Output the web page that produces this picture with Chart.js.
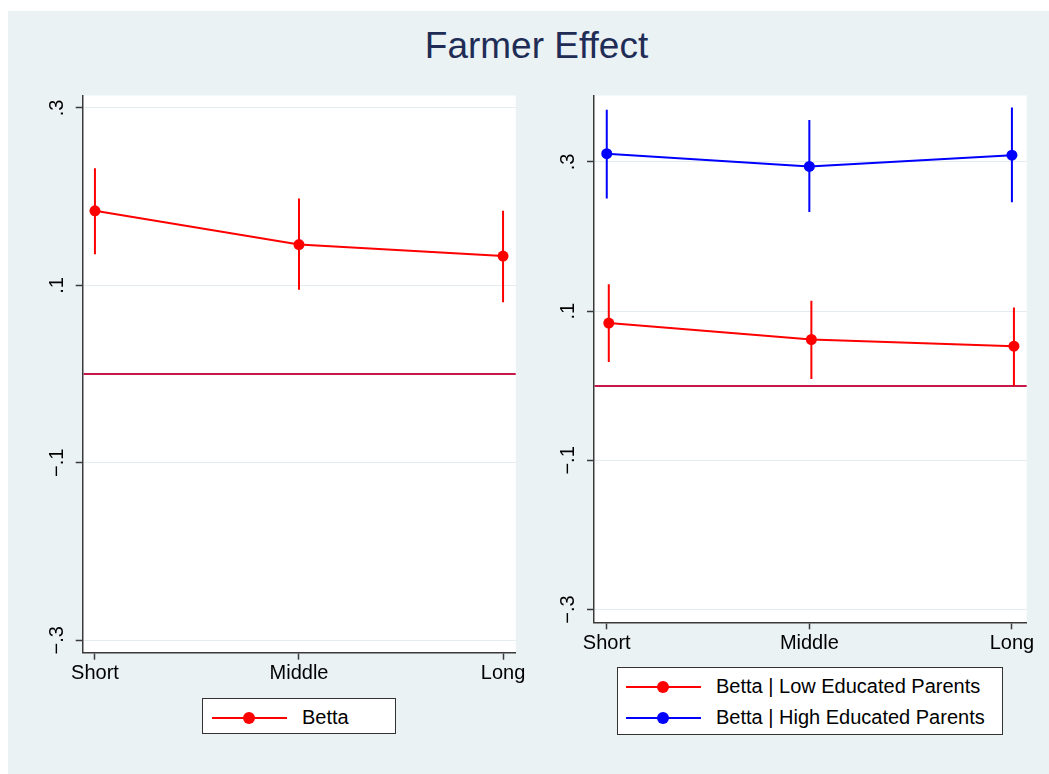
<!DOCTYPE html>
<html>
<head>
<meta charset="utf-8">
<script src="https://cdn.jsdelivr.net/npm/chart.js@4.4.0/dist/chart.umd.min.js"></script>
<style>
  body { margin:0; background:#ffffff; width:1049px; height:774px; overflow:hidden; position:relative;
         font-family:"Liberation Sans", Arial, Helvetica, sans-serif; }
  #bg { position:absolute; left:8px; top:11px; width:1041px; height:763px; background:#eaf2f3; }
  #title { position:absolute; left:0; width:1073px; top:27px; text-align:center; font-size:37px; line-height:37px; color:#1f2d56; }
  canvas { position:absolute; }
  .legend { position:absolute; background:#ffffff; border:1px solid #333333; box-sizing:border-box; }
  .sym { position:absolute; width:75px; height:2px; }
  .dot { position:absolute; width:12px; height:12px; border-radius:50%; left:31px; top:-5px; }
  .lbl { position:absolute; font-size:20px; line-height:20px; color:#000000; white-space:nowrap; }
</style>
</head>
<body>
<div id="bg"></div>
<div id="title">Farmer Effect</div>
<canvas id="c1" width="510" height="610" style="left:20px;top:90px;"></canvas>
<canvas id="c2" width="500" height="580" style="left:540px;top:90px;"></canvas>

<div class="legend" style="left:202px;top:698px;width:194px;height:36px;">
  <div class="sym" style="left:9px;top:18px;background:#ff0000;"><div class="dot" style="background:#ff0000;"></div></div>
  <div class="lbl" style="left:99px;top:8px;">Betta</div>
</div>
<div class="legend" style="left:617px;top:667px;width:386px;height:68px;">
  <div class="sym" style="left:8px;top:18px;background:#ff0000;"><div class="dot" style="background:#ff0000;"></div></div>
  <div class="lbl" style="left:98px;top:8px;">Betta | Low Educated Parents</div>
  <div class="sym" style="left:8px;top:49px;background:#0000ff;"><div class="dot" style="background:#0000ff;"></div></div>
  <div class="lbl" style="left:98px;top:39px;">Betta | High Educated Parents</div>
</div>

<script>
// ---- data ----
const categories = ['Short', 'Middle', 'Long'];
const yTickValues = [-0.3, -0.1, 0.1, 0.3];
const yTickLabels = ['\u2212.3', '\u2212.1', '.1', '.3'];

// left panel: Betta (all)
const bettaAll     = [0.184, 0.146, 0.133];
const bettaAllLow  = [0.135, 0.095, 0.081];
const bettaAllHigh = [0.232, 0.198, 0.184];

// right panel: Low educated parents
const bettaLowEd     = [0.084, 0.062, 0.053];
const bettaLowEdLow  = [0.032, 0.009, 0.000];
const bettaLowEdHigh = [0.136, 0.114, 0.105];

// right panel: High educated parents
const bettaHighEd     = [0.311, 0.294, 0.309];
const bettaHighEdLow  = [0.251, 0.233, 0.246];
const bettaHighEdHigh = [0.370, 0.356, 0.373];

const lowEdDodge = 0.01;

// ---- styling ----
const FONT = "'Liberation Sans', Arial, Helvetica, sans-serif";
const RED = '#ff0000', BLUE = '#0000ff', ZERO = '#c8184a', GRID = '#e3ecee', AXIS = '#3a3a3a';

function seriesSets(vals, lo, hi, color, dx) {
  const line = [{
    data: vals.map((v, i) => ({ x: i + dx, y: v })),
    showLine: true, borderColor: color, borderWidth: 2,
    pointRadius: 5.5, pointBackgroundColor: color, pointBorderWidth: 0, pointHoverRadius: 5.5
  }];
  const bars = vals.map((v, i) => ({
    data: [{ x: i + dx, y: lo[i] }, { x: i + dx, y: hi[i] }],
    showLine: true, borderColor: color, borderWidth: 2, pointRadius: 0
  }));
  return { line: line, bars: bars };
}

const areaBg = {
  id: 'areaBg',
  beforeDraw(chart) {
    const { ctx, chartArea: a } = chart;
    ctx.save();
    ctx.fillStyle = '#ffffff';
    ctx.fillRect(a.left, a.top, a.right - a.left, a.bottom - a.top);
    ctx.restore();
  }
};

function zeroPad(s) { s.paddingTop = 0; s.paddingBottom = 0; s.paddingLeft = 0; s.paddingRight = 0; }

function makeChart(id, datasets, yMin, yMax, xMin, xMax, yAxisWidth, padding) {
  return new Chart(document.getElementById(id), {
    type: 'scatter',
    data: { datasets: datasets },
    options: {
      responsive: false, animation: false,
      layout: { padding: padding },
      plugins: { legend: { display: false }, tooltip: { enabled: false } },
      scales: {
        x: {
          type: 'linear', min: xMin, max: xMax,
          afterBuildTicks: s => { s.ticks = categories.map((c, i) => ({ value: i })); },
          afterFit: s => { s.height = 40; zeroPad(s); },
          ticks: { callback: v => categories[v], font: { family: FONT, size: 20 }, color: '#000', padding: 2, maxRotation: 0, minRotation: 0 },
          grid: { drawOnChartArea: false, tickLength: 7, tickColor: AXIS, tickWidth: 1.5 },
          border: { display: true, color: AXIS, width: 1.5 }
        },
        y: {
          type: 'linear', min: yMin, max: yMax,
          afterBuildTicks: s => { s.ticks = [-0.3, -0.1, 0, 0.1, 0.3].map(v => ({ value: v })); },
          afterFit: s => { s.width = yAxisWidth; zeroPad(s); },
          ticks: {
            callback: v => { const k = yTickValues.findIndex(t => Math.abs(t - v) < 1e-9); return k < 0 ? '' : yTickLabels[k]; },
            font: { family: FONT, size: 20 }, color: '#000', padding: 4.5,
            minRotation: 90, maxRotation: 90, crossAlign: 'center'
          },
          grid: {
            color: c => (Math.abs(c.tick.value) < 1e-9 ? ZERO : GRID),
            lineWidth: c => (Math.abs(c.tick.value) < 1e-9 ? 2 : 1),
            tickColor: c => (Math.abs(c.tick.value) < 1e-9 ? 'rgba(0,0,0,0)' : AXIS),
            tickLength: 7, tickWidth: 1.5
          },
          border: { display: true, color: AXIS, width: 1.5 }
        }
      }
    },
    plugins: [areaBg]
  });
}

// left chart
const L = seriesSets(bettaAll, bettaAllLow, bettaAllHigh, RED, 0);
makeChart('c1', [...L.line, ...L.bars], -0.314, 0.314, -0.060, 2.062, 62.7,
  { top: 5, right: 14.3, bottom: 7.3, left: 0 });

// right chart
const H = seriesSets(bettaHighEd, bettaHighEdLow, bettaHighEdHigh, BLUE, 0);
const Lo = seriesSets(bettaLowEd, bettaLowEdLow, bettaLowEdHigh, RED, lowEdDodge);
makeChart('c2', [...Lo.line, ...H.line, ...Lo.bars, ...H.bars], -0.317, 0.389, -0.063, 2.073, 54,
  { top: 5, right: 13.3, bottom: 7.7, left: 0 });
</script>
</body>
</html>
